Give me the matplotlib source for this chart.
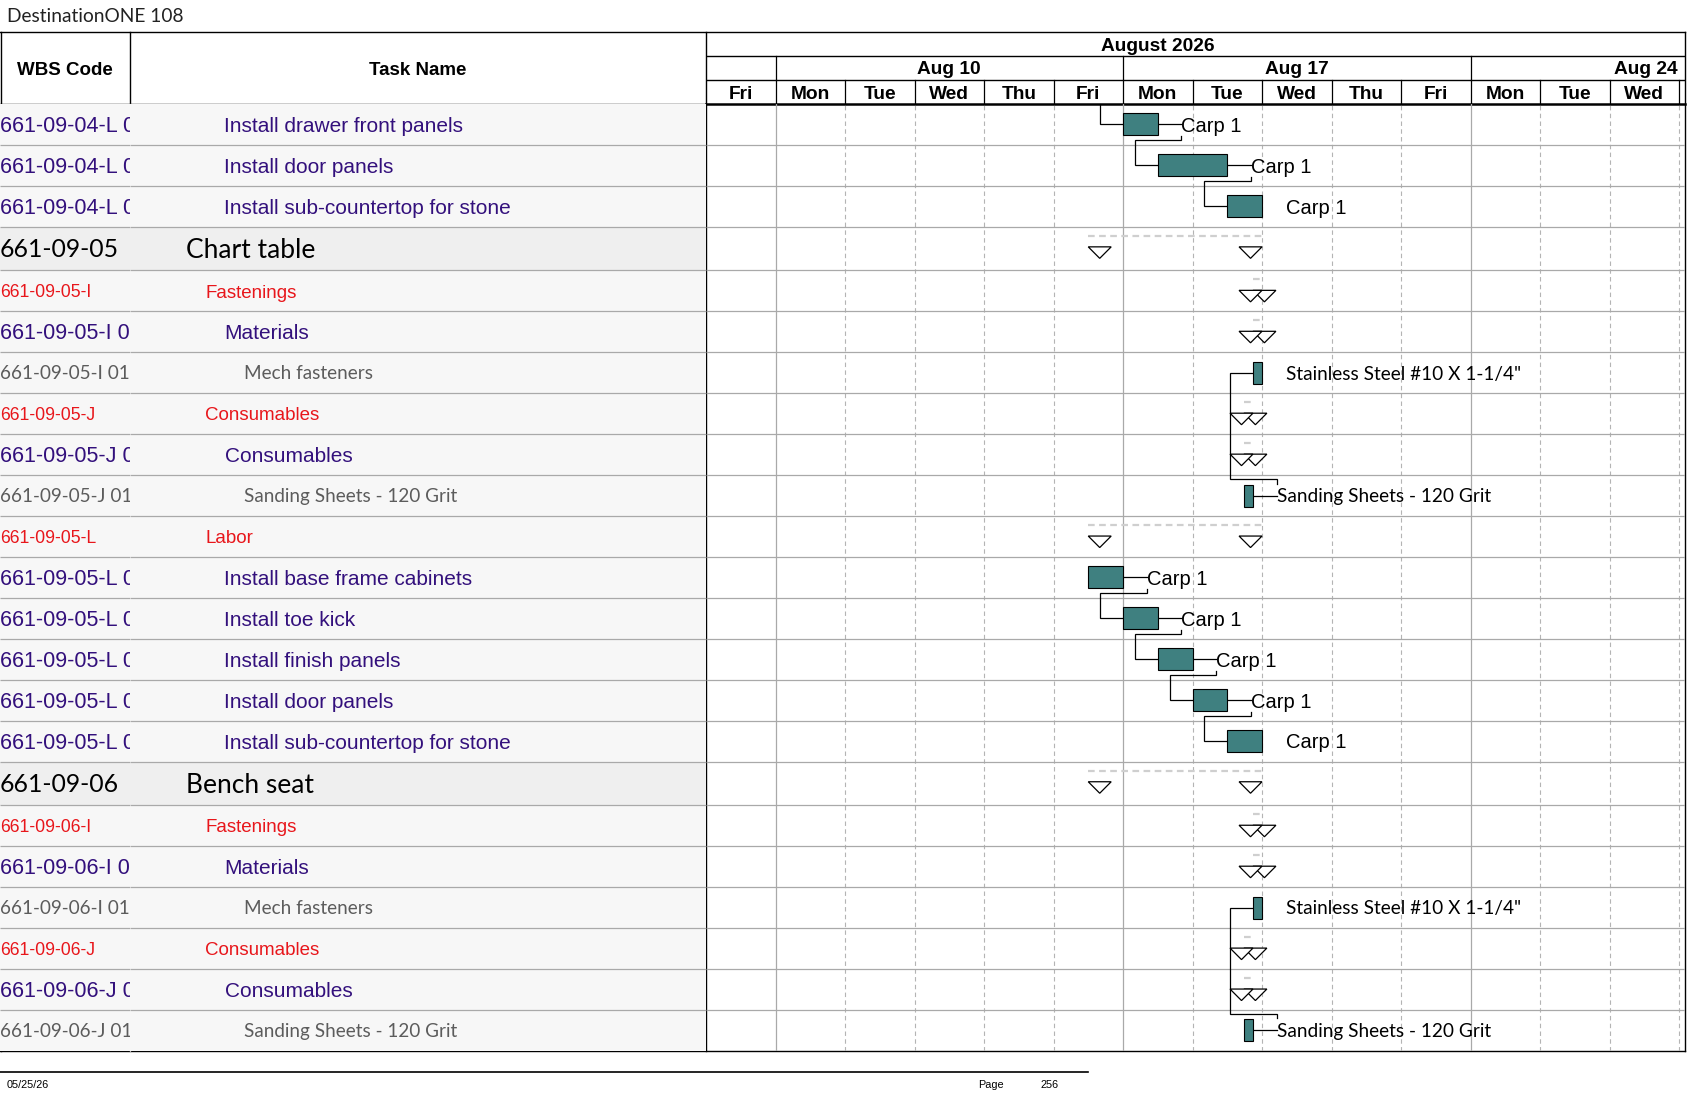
import numpy as np
import matplotlib
matplotlib.use("Agg")
import matplotlib.pyplot as plt
from matplotlib.patches import Rectangle, Polygon

W, H, DPI = 1687, 1097, 100

# ---------------- data ----------------
title = "DestinationONE 108"
month_label = "August 2026"
day_labels = ["Fri", "Mon", "Tue", "Wed", "Thu", "Fri", "Mon", "Tue",
              "Wed", "Thu", "Fri", "Mon", "Tue", "Wed"]
week_labels = ["Aug 10", "Aug 17", "Aug 24"]
week_starts = [1, 6, 11]          # working-day index of each Monday

wbs_codes = [
    "661-09-04-L 01-04", "661-09-04-L 01-05", "661-09-04-L 01-06",
    "661-09-05", "661-09-05-I", "661-09-05-I 01", "661-09-05-I 01-01",
    "661-09-05-J", "661-09-05-J 01", "661-09-05-J 01-01",
    "661-09-05-L", "661-09-05-L 01-01", "661-09-05-L 01-02",
    "661-09-05-L 01-03", "661-09-05-L 01-04", "661-09-05-L 01-05",
    "661-09-06", "661-09-06-I", "661-09-06-I 01", "661-09-06-I 01-01",
    "661-09-06-J", "661-09-06-J 01", "661-09-06-J 01-01",
]
task_names = [
    "Install drawer front panels", "Install door panels",
    "Install sub-countertop for stone",
    "Chart table", "Fastenings", "Materials", "Mech fasteners",
    "Consumables", "Consumables", "Sanding Sheets - 120 Grit",
    "Labor", "Install base frame cabinets", "Install toe kick",
    "Install finish panels", "Install door panels",
    "Install sub-countertop for stone",
    "Bench seat", "Fastenings", "Materials", "Mech fasteners",
    "Consumables", "Consumables", "Sanding Sheets - 120 Grit",
]
levels = [4, 4, 4, 2, 3, 4, 5, 3, 4, 5, 3, 4, 4, 4, 4, 4, 2, 3, 4, 5, 3, 4, 5]

# start / finish in working days from Fri Aug 7
starts = [6.0, 6.5, 7.5, 5.5, 7.87, 7.87, 7.87, 7.74, 7.74, 7.74,
          5.5, 5.5, 6.0, 6.5, 7.0, 7.5,
          5.5, 7.87, 7.87, 7.87, 7.74, 7.74, 7.74]
finishes = [6.5, 7.5, 8.0, 8.0, 8.0, 8.0, 8.0, 7.87, 7.87, 7.87,
            8.0, 6.0, 6.5, 7.0, 7.5, 8.0,
            8.0, 8.0, 8.0, 8.0, 7.87, 7.87, 7.87]
resources = ["Carp 1", "Carp 1", "Carp 1", "", "", "",
             'Stainless Steel #10 X 1-1/4"', "", "", "Sanding Sheets - 120 Grit",
             "", "Carp 1", "Carp 1", "Carp 1", "Carp 1", "Carp 1",
             "", "", "", 'Stainless Steel #10 X 1-1/4"', "", "",
             "Sanding Sheets - 120 Grit"]
# (predecessor, successor); None = link coming from a task above this page
links = [(None, 0), (0, 1), (1, 2), (9, 6), (11, 12), (12, 13),
         (13, 14), (14, 15), (22, 19)]

footer_date = "05/25/26"
footer_page = "256"

# ---------------- styles ----------------
PURPLE = "#33107c"
RED = "#e8161b"
GRAY = "#5c5c5c"
TEAL = "#3f8080"
GRID = "#a9a9a9"
ARIAL = "Liberation Sans"
SOFT = "Lato"

styles = {
    2: dict(family=SOFT, size=19, wsize=17.8, color="black"),
    3: dict(family=ARIAL, size=13.5, wsize=12.7, color=RED),
    4: dict(family=ARIAL, size=15.0, wsize=15.5, color=PURPLE),
    5: dict(family=SOFT, size=13.6, wsize=13.6, color=GRAY),
}


def cap_half(fs):
    # half cap height in pixels, used to centre text by its capitals
    return 0.358 * fs * DPI / 72


def place(x0, y0, x1, y1):
    return [x0 / W, 1 - y1 / H, (x1 - x0) / W, (y1 - y0) / H]


n = len(task_names)
heights = np.array([43.5 if lv == 2 else 40.95 for lv in levels])
edges = np.concatenate([[0], np.cumsum(heights)])
centers = (edges[:-1] + edges[1:]) / 2
total = edges[-1]

BODY_TOP = 104
BODY_BOT = BODY_TOP + total
X_WBS, X_TASK, X_G, X_R = 0, 130, 706, 1685
DAY_PX = 69.5
XMAX = (X_R - X_G) / DAY_PX

is_summary = [i + 1 < n and levels[i + 1] > levels[i] for i in range(n)]

fig = plt.figure(figsize=(W / DPI, H / DPI), dpi=DPI)

# page axes (pixel coordinates)
ax_p = fig.add_axes([0, 0, 1, 1])
ax_p.set_xlim(0, W)
ax_p.set_ylim(H, 0)
ax_p.axis("off")

ax_w = fig.add_axes(place(X_WBS, BODY_TOP, X_TASK, BODY_BOT))
ax_t = fig.add_axes(place(X_TASK, BODY_TOP, X_G, BODY_BOT), sharey=ax_w)
ax_g = fig.add_axes(place(X_G, BODY_TOP, X_R, BODY_BOT), sharey=ax_w)
ax_h = fig.add_axes(place(X_G, 32, X_R, BODY_TOP), sharex=ax_g)

ax_w.set_xlim(0, X_TASK - X_WBS)
ax_t.set_xlim(0, X_G - X_TASK)
ax_g.set_xlim(0, XMAX)
ax_w.set_ylim(total, 0)
ax_h.set_ylim(72, 0)
for a in (ax_w, ax_t, ax_g, ax_h):
    a.axis("off")

# ---------------- table ----------------
for i in range(n):
    lv = levels[i]
    st = styles[lv]
    bg = "#efefef" if lv == 2 else "#f7f7f7"
    for a, wd in ((ax_w, X_TASK), (ax_t, X_G - X_TASK)):
        a.add_patch(Rectangle((0, edges[i]), wd, heights[i], facecolor=bg,
                              edgecolor="none", zorder=0))
    ax_w.text(0, centers[i] + cap_half(st["wsize"]), wbs_codes[i],
              fontsize=st["wsize"], family=st["family"], color=st["color"],
              ha="left", va="baseline", clip_on=True)
    ax_t.text(148 + 19 * lv - X_TASK + 0.5, centers[i] + cap_half(st["size"]),
              task_names[i], fontsize=st["size"], family=st["family"],
              color=st["color"], ha="left", va="baseline")

for a, wd in ((ax_w, X_TASK), (ax_t, X_G - X_TASK)):
    a.hlines(edges[1:-1], 0, wd, color=GRID, lw=0.9, zorder=1)

# ---------------- gantt grid ----------------
for d in range(1, int(XMAX) + 1):
    if d in week_starts:
        ax_g.axvline(d, color=GRID, lw=0.9, zorder=1)
    else:
        ax_g.axvline(d, color="#b4b4b4", lw=0.8, ls=(0, (4, 3)), zorder=1)
ax_g.hlines(edges[1:-1], 0, XMAX, color=GRID, lw=0.9, zorder=1)

TRI_W = 0.33
for i in range(n):
    s, f, top, c = starts[i], finishes[i], edges[i], centers[i]
    if is_summary[i]:
        ax_g.plot([s, f], [top + 9, top + 9], color="#cfcfcf", lw=1.6,
                  ls=(0, (3, 2)), zorder=2)
        for x0 in (s, f - TRI_W):
            ax_g.add_patch(Polygon([(x0, top + 20), (x0 + TRI_W, top + 20),
                                    (x0 + TRI_W / 2, top + 31.5)],
                                   closed=True, facecolor="white",
                                   edgecolor="black", lw=0.9, zorder=4))
    else:
        ax_g.add_patch(Rectangle((s, c - 11), f - s, 22, facecolor=TEAL,
                                 edgecolor="black", lw=0.8, zorder=4))
    if resources[i]:
        fam, fs = (ARIAL, 14.5) if resources[i].startswith("Carp") else (SOFT, 13.65)
        ax_g.text(f + 0.34, c + cap_half(fs), resources[i], fontsize=fs,
                  family=fam, color="black", ha="left", va="baseline", zorder=5)

# dependency links (the part hidden behind the resource label is skipped)
for p, s in links:
    sx, sy = starts[s], centers[s]
    if p is None:
        segs = [[(sx - 0.33, 0), (sx - 0.33, sy), (sx, sy)]]
    else:
        px, py = finishes[p], centers[p]
        down = s > p
        ymid = edges[p + 1] - 4.5 if down else edges[p] + 3.5
        ygap = py + (12 if down else -12) if resources[p] else py
        segs = [[(px, py), (px + 0.34, py)],
                [(px + 0.34, ygap), (px + 0.34, ymid), (sx - 0.33, ymid),
                 (sx - 0.33, sy), (sx, sy)]]
    for seg in segs:
        xs, ys = zip(*seg)
        ax_g.plot(xs, ys, color="black", lw=0.9, zorder=3,
                  solid_joinstyle="miter")

# ---------------- timescale header ----------------
ax_h.hlines([23.5, 47.5], 0, XMAX, color="black", lw=1.0)
for d in range(1, int(XMAX) + 1):
    ax_h.plot([d, d], [47.5, 72], color="black", lw=0.9)
for ws in week_starts:
    ax_h.plot([ws, ws], [23.5, 47.5], color="black", lw=0.9)
for k, lab in enumerate(day_labels):
    ax_h.text(k + 0.5, 60 + cap_half(13.8), lab, fontsize=13.8, family=ARIAL,
              weight="bold", ha="center", va="baseline")
for ws, lab in zip(week_starts, week_labels):
    if ws + 5 <= XMAX:
        ax_h.text(ws + 2.5, 35.5 + cap_half(13.8), lab, fontsize=13.8,
                  family=ARIAL, weight="bold", ha="center", va="baseline")
    else:
        ax_h.text(XMAX - 0.1, 35.5 + cap_half(13.8), lab, fontsize=13.8,
                  family=ARIAL, weight="bold", ha="right", va="baseline")
ax_h.text(6.5, 11.75 + cap_half(13.8), month_label, fontsize=13.8,
          family=ARIAL, weight="bold", ha="center", va="baseline")

# ---------------- page frame ----------------
ax_p.text(7, 22, title, fontsize=13.8, family=SOFT, color="#222222",
          ha="left", va="baseline")
ax_p.plot([0, X_R], [32, 32], color="black", lw=1.0)
ax_p.plot([0, X_G], [BODY_TOP, BODY_TOP], color="black", lw=1.0)
ax_p.plot([X_G, X_R], [BODY_TOP, BODY_TOP], color="black", lw=1.8)
ax_p.plot([0, X_R], [BODY_BOT, BODY_BOT], color="black", lw=1.0)
ax_p.plot([0.5, 0.5], [32, BODY_BOT], color="black", lw=1.0)
ax_p.plot([X_TASK, X_TASK], [32, BODY_TOP], color="black", lw=1.0)
ax_p.plot([X_TASK, X_TASK], [BODY_TOP, BODY_BOT], color=GRID, lw=0.9)
ax_p.plot([X_G, X_G], [32, BODY_BOT], color="black", lw=1.0)
ax_p.plot([X_R, X_R], [32, BODY_BOT], color="black", lw=1.0)
ax_p.text((X_WBS + X_TASK) / 2, 68 + cap_half(13.5), "WBS Code", fontsize=13.5,
          family=ARIAL, weight="bold", ha="center", va="baseline")
ax_p.text((X_TASK + X_G) / 2, 68 + cap_half(13.5), "Task Name", fontsize=13.5,
          family=ARIAL, weight="bold", ha="center", va="baseline")

# footer
ax_p.plot([0, 1088], [1072, 1072], color="black", lw=1.2)
NARROW = ["Liberation Sans Narrow", "Liberation Sans"]
ax_p.text(7, 1087.5, footer_date, fontsize=7.8, family=NARROW, ha="left",
          va="baseline")
ax_p.text(978, 1087.5, "Page", fontsize=7.8, family=NARROW, ha="left",
          va="baseline")
ax_p.text(1041, 1087.5, footer_page, fontsize=7.8, family=NARROW, ha="left",
          va="baseline")

fig.savefig("out.png", dpi=DPI)
